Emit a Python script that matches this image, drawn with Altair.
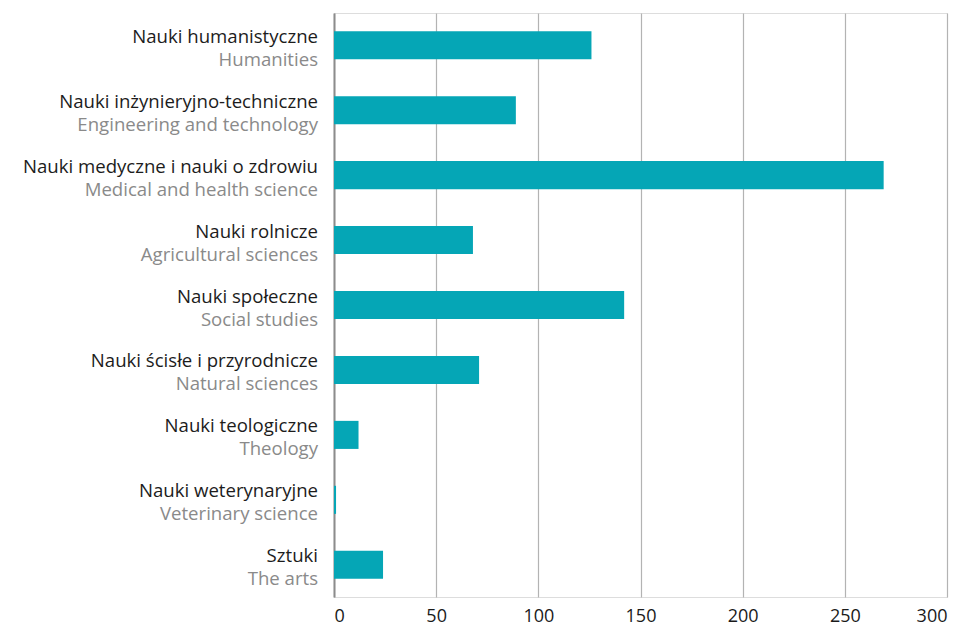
import altair as alt
import pandas as pd

pl_labels = [
    "Nauki humanistyczne",
    "Nauki inżynieryjno-techniczne",
    "Nauki medyczne i nauki o zdrowiu",
    "Nauki rolnicze",
    "Nauki społeczne",
    "Nauki ścisłe i przyrodnicze",
    "Nauki teologiczne",
    "Nauki weterynaryjne",
    "Sztuki",
]
en_labels = [
    "Humanities",
    "Engineering and technology",
    "Medical and health science",
    "Agricultural sciences",
    "Social studies",
    "Natural sciences",
    "Theology",
    "Veterinary science",
    "The arts",
]
values = [126, 89, 269, 68, 142, 71, 12, 1, 24]
x_ticks = [0, 50, 100, 150, 200, 250, 300]

df = pd.DataFrame({"pl": pl_labels, "en": en_labels, "value": values})

FONT = "Open Sans"
TEAL = "#05a6b6"
FS = 18.6

y = alt.Y("pl:N", sort=pl_labels,
          scale=alt.Scale(paddingInner=0.568, paddingOuter=0.28),
          axis=alt.Axis(title=None, labels=False, ticks=False, domain=True,
                        domainColor="#8c8c8c", domainWidth=2, grid=False))

bars = alt.Chart(df).mark_bar(color=TEAL).encode(
    x=alt.X("value:Q", scale=alt.Scale(domain=[0, 300], nice=False),
            axis=alt.Axis(title=None, values=x_ticks, grid=True, gridColor="#b3b3b3",
                          gridWidth=1.2, domain=False, ticks=False, labelPadding=24,
                          labelBaseline="alphabetic",
                          labelFont=FONT, labelFontSize=18, labelColor="#1a1a1a")),
    y=y,
)

pl_text = alt.Chart(df).mark_text(
    align="right", baseline="alphabetic", font=FONT, fontSize=FS, color="#1c1c1c", dy=-2.5
).encode(y=alt.Y("pl:N", sort=pl_labels), x=alt.value(-16), text="pl:N")

en_text = alt.Chart(df).mark_text(
    align="right", baseline="alphabetic", font=FONT, fontSize=FS, color="#8a8a8a", dy=20.5
).encode(y=alt.Y("pl:N", sort=pl_labels), x=alt.value(-16), text="en:N")

chart = alt.layer(bars, pl_text, en_text).properties(
    width=613, height=584,
    autosize=alt.AutoSizeParams(type="none"),
    padding={"left": 326, "top": 5, "right": 14, "bottom": 32},
).configure_view(stroke=None).configure(background="white")

chart.save("out.html", embed_options={"renderer": "svg", "actions": False})
